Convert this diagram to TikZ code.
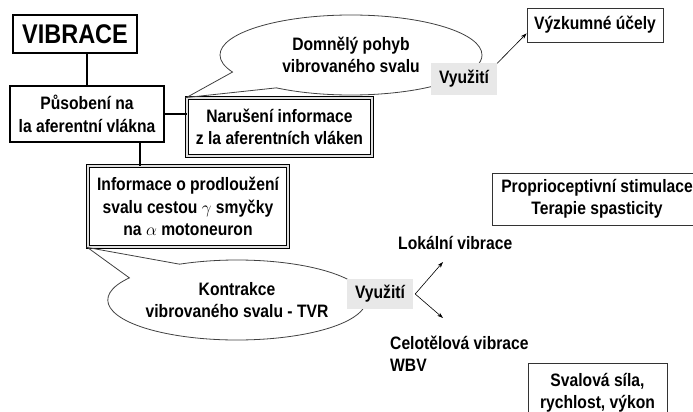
\documentclass[tikz,border=0pt]{standalone}
\usepackage{amssymb,amsmath}
\usepackage{fontspec}
\setmainfont{Liberation Sans}[FakeStretch=0.87]
\usetikzlibrary{shapes.callouts,arrows.meta}

\tikzset{
	txt/.style = {font=\bfseries\fontsize{18}{22.5}\selectfont, align=center, inner sep=0pt},
	mainbox/.style = {txt, draw, line width=2pt},
	dblbox/.style = {txt, draw, line width=1pt, double=gray!25, double distance=1.4pt},
	thinbox/.style = {txt, draw=black!80, line width=0.8pt},
	bubble/.style = {txt, ellipse callout, draw=black!75, line width=0.8pt, callout pointer arc=30},
	use/.style = {txt, fill=gray!18, minimum width=66pt, minimum height=31pt},
	arr/.style = {-{Stealth[length=6pt,width=4pt]}, line width=0.6pt}
}

\begin{document}
\begin{tikzpicture}[x=1pt, y=-1pt]
		%% picture size, same as the 693x412 image
		\useasboundingbox (0,0) rectangle (693,412);
		\clip (0,0) rectangle (693,412);
		%% the main chain on the left
		\node (vib) at (75,34) [mainbox, line width=2.6pt, minimum width=124pt, minimum height=38pt, font=\bfseries\fontsize{27}{30}\selectfont] {VIBRACE};
		\node (pus) at (87,114) [mainbox, minimum width=154pt, minimum height=56pt] {Působení na\\la aferentní vlákna};
		\node (nar) at (279.5,127) [dblbox, minimum width=185pt, minimum height=58pt] {Narušení informace\\z la aferentních vláken};
		\node (inf) at (188,206.5) [dblbox, minimum width=200pt, minimum height=81pt] {Informace o prodloužení\\svalu cestou $\gamma$ smyčky\\na $\alpha$ motoneuron};
		\draw[line width=2pt] (pus.north) -- (pus.north |- vib.south);
		\draw[line width=2pt] (pus.east) -- (pus.east -| nar.west);
		\draw[line width=2pt] ([xshift=-25pt]pus.south east) -- ([xshift=-25pt]pus.south east |- inf.north);
		%% upper bubble
		\node (dom) at (351,55) [bubble, minimum width=262pt, minimum height=80pt, callout absolute pointer={(nar.north west)}] {Domnělý pohyb\\vibrovaného svalu};
		\node (vyu1) at (464,79) [use] {Využití};
		\node (vyz) at (595,25) [thinbox, minimum width=136pt, minimum height=34pt] {Výzkumné účely};
		\draw[arr] (vyu1.north east) -- ([yshift=9pt]vyz.south west);
		%% boxes on the right
		\node (pro) at (597,199) [thinbox, minimum width=210pt, minimum height=52pt] {Proprioceptivní stimulace\\Terapie spasticity};
		\node (sva) at (597.5,393) [thinbox, minimum width=139pt, minimum height=60pt] {Svalová síla,\\rychlost, výkon};
		%% lower bubble
		\node (kon) at (237,300) [bubble, minimum width=258pt, minimum height=80pt, callout absolute pointer={(inf.south west)}] {Kontrakce\\vibrovaného svalu - TVR};
		\node (vyu2) at (380,294) [use, minimum height=30pt] {Využití};
		\node (lok) at (398,243) [txt, anchor=west] {Lokální vibrace};
		\node (cel) at (390,354) [txt, anchor=west, align=left] {Celotělová vibrace\\WBV};
		\coordinate (lokend) at (443,262);
		\coordinate (celend) at (443,318);
		\draw[arr] ([xshift=2pt]vyu2.east) -- (lokend);
		\draw[arr] ([xshift=2pt]vyu2.east) -- (celend);
		%\draw[help lines, step=20] (0,0) grid (693,412);
	\end{tikzpicture}
\end{document}
